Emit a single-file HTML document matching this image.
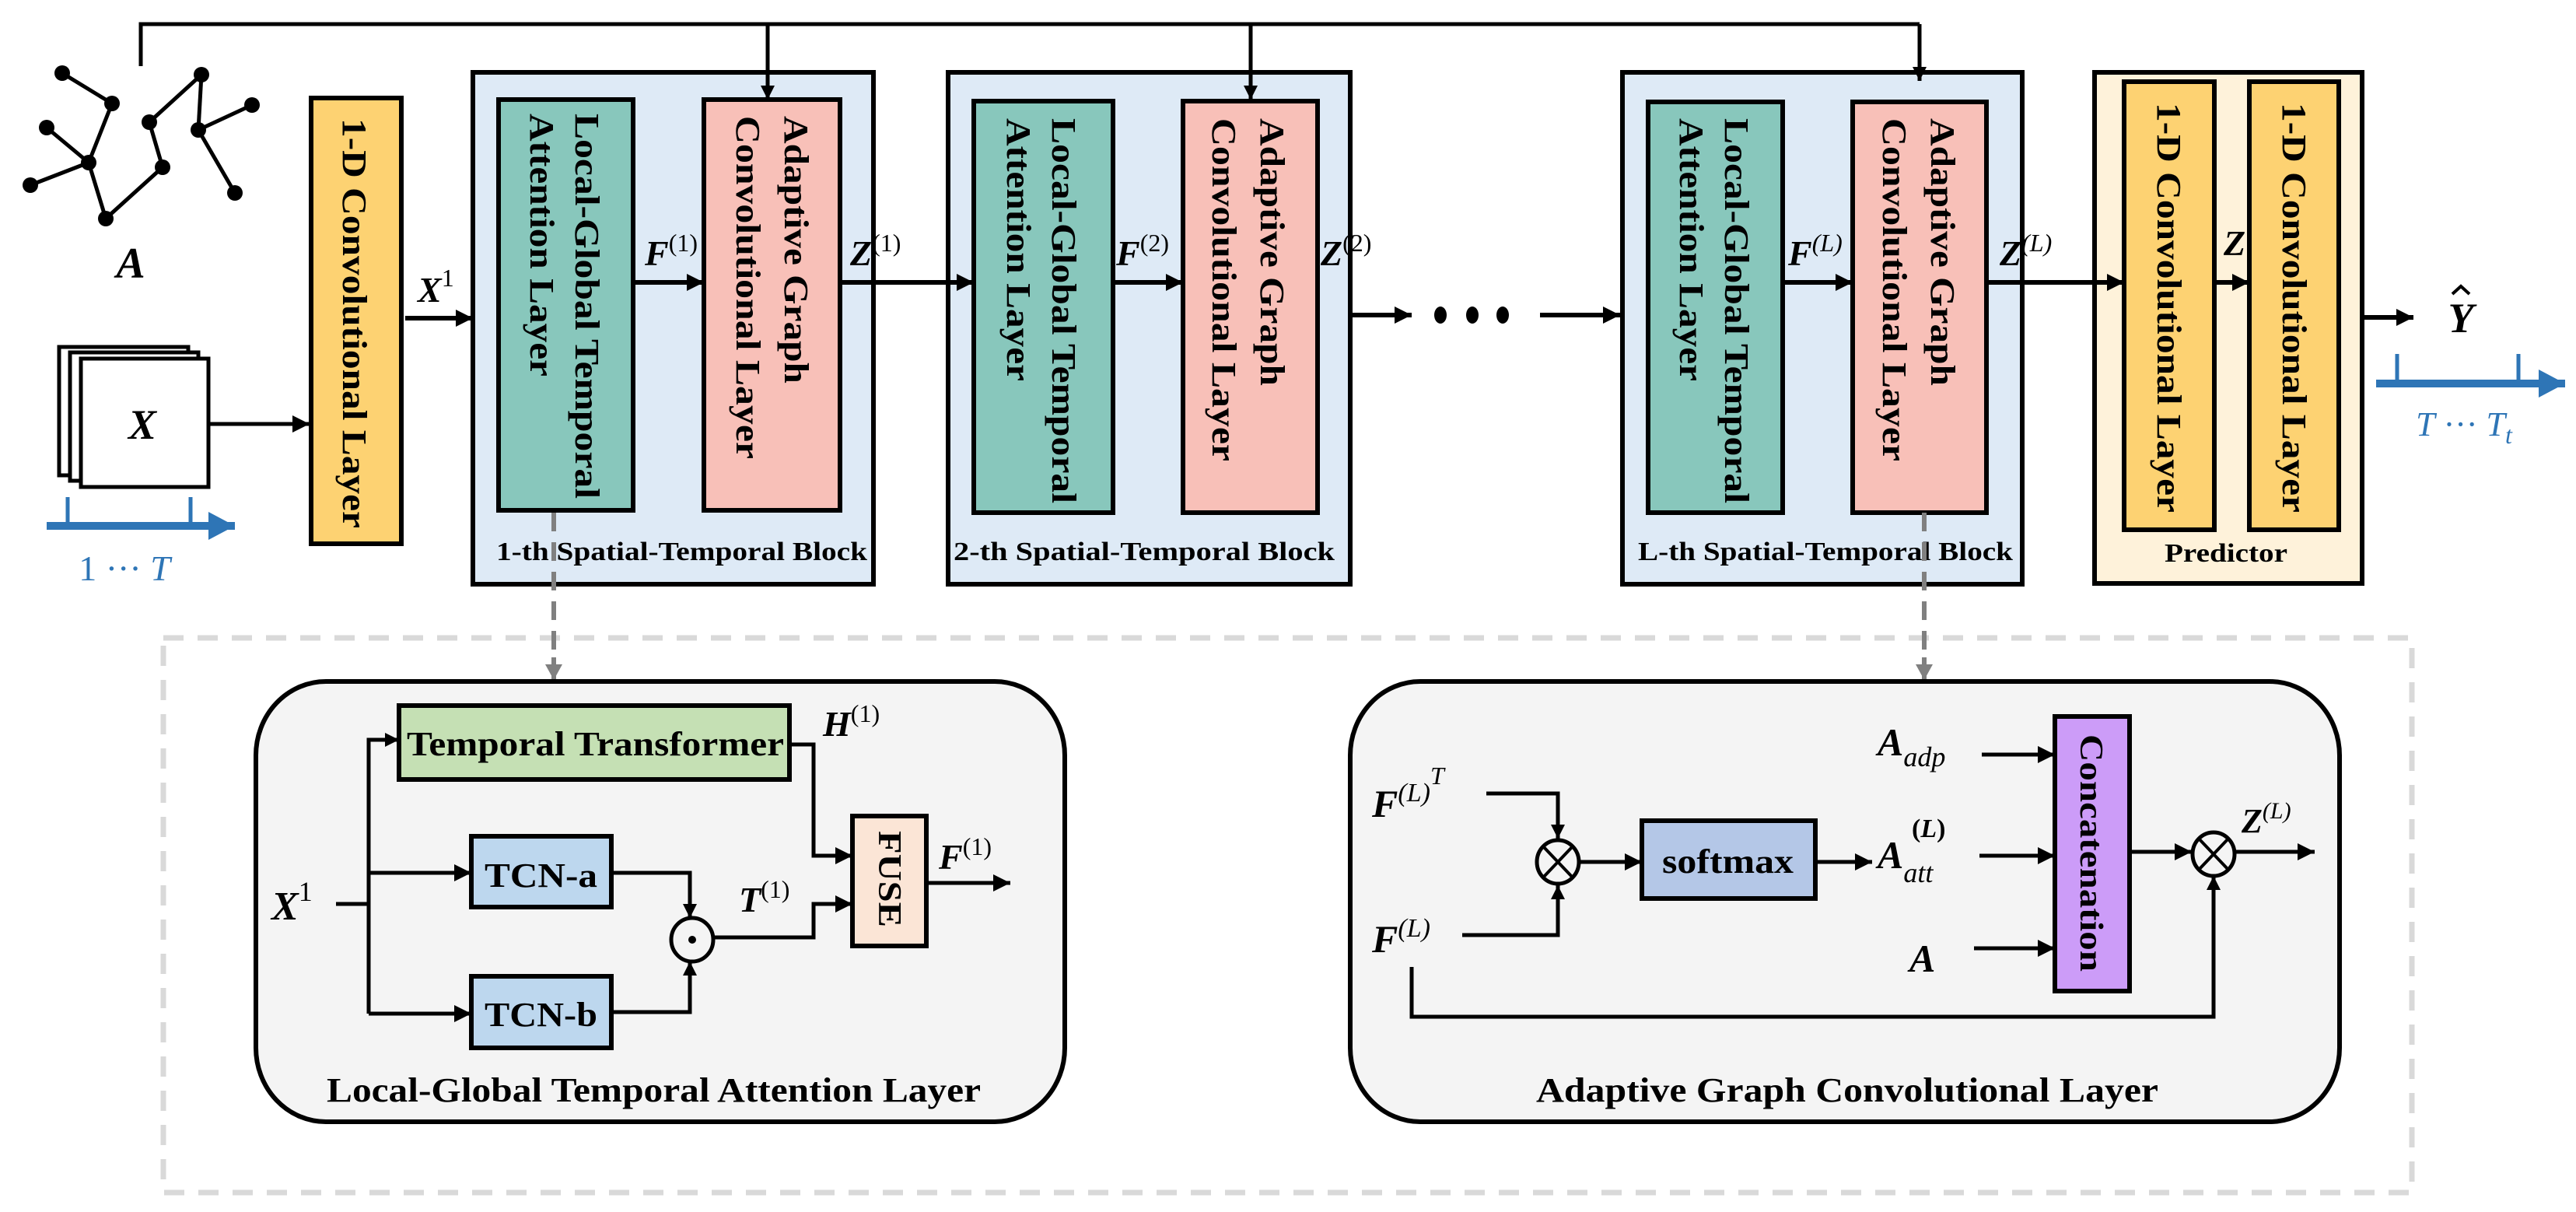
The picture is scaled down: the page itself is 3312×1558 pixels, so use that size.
<!DOCTYPE html>
<html><head><meta charset="utf-8"><style>
html,body{margin:0;padding:0;background:#fff;}
svg{display:block;font-family:"Liberation Serif","Times New Roman",serif;}
svg text{font-family:"Liberation Serif","Times New Roman",serif;font-weight:bold;}
.m{font-style:italic;}
.n{font-style:normal;font-weight:normal;}
</style></head><body>
<svg width="3312" height="1558" viewBox="0 0 3312 1558" xmlns="http://www.w3.org/2000/svg" font-family="Liberation Serif, serif" font-weight="bold">
<defs>
<marker id="ar" markerUnits="userSpaceOnUse" markerWidth="24" markerHeight="22" refX="22" refY="11" orient="auto"><path d="M0,0 L22,11 L0,22 z" fill="#000"/></marker>
<marker id="as" markerUnits="userSpaceOnUse" markerWidth="18" markerHeight="18" refX="18" refY="9" orient="auto"><path d="M0,0 L18,9 L0,18 z" fill="#000"/></marker>
<marker id="ag" markerUnits="userSpaceOnUse" markerWidth="22" markerHeight="22" refX="20" refY="11" orient="auto"><path d="M0,0 L20,11 L0,22 z" fill="#808080"/></marker>
<marker id="ab" markerUnits="userSpaceOnUse" markerWidth="36" markerHeight="36" refX="34" refY="18" orient="auto"><path d="M0,0 L34,18 L0,36 z" fill="#2E75B6"/></marker>
</defs>

<!-- graph A -->
<g stroke="#000" stroke-width="5">
<line x1="80" y1="94" x2="144" y2="133"/><line x1="144" y1="133" x2="114" y2="209"/>
<line x1="60" y1="164" x2="114" y2="209"/><line x1="39" y1="238" x2="114" y2="209"/>
<line x1="114" y1="209" x2="136" y2="281"/><line x1="136" y1="281" x2="209" y2="215"/>
<line x1="209" y1="215" x2="192" y2="157"/><line x1="192" y1="157" x2="259" y2="96"/>
<line x1="259" y1="96" x2="255" y2="167"/><line x1="255" y1="167" x2="324" y2="135"/>
<line x1="255" y1="167" x2="302" y2="248"/>
</g>
<g fill="#000">
<circle cx="80" cy="94" r="10"/><circle cx="144" cy="133" r="10"/><circle cx="60" cy="164" r="10"/>
<circle cx="114" cy="209" r="10"/><circle cx="39" cy="238" r="10"/><circle cx="136" cy="281" r="10"/>
<circle cx="192" cy="157" r="10"/><circle cx="209" cy="215" r="10"/><circle cx="259" cy="96" r="10"/>
<circle cx="255" cy="167" r="10"/><circle cx="324" cy="135" r="10"/><circle cx="302" cy="248" r="10"/>
</g>
<text x="168" y="357" font-size="56" class="m" text-anchor="middle">A</text>

<!-- X stack -->
<g fill="#fff" stroke="#000" stroke-width="5">
<rect x="76" y="446" width="166" height="165"/>
<rect x="90" y="453" width="165" height="165"/>
<rect x="104" y="461" width="164" height="165"/>
</g>
<text x="183" y="564" font-size="54" class="m" text-anchor="middle">X</text>
<line x1="268" y1="545" x2="398" y2="545" stroke="#000" stroke-width="5" marker-end="url(#ar)"/>

<!-- blue axis 1 -->
<g stroke="#2E75B6" stroke-width="10" fill="none">
<line x1="60" y1="676" x2="302" y2="676" marker-end="url(#ab)"/>
<line x1="87" y1="639" x2="87" y2="676" stroke-width="5"/>
<line x1="245" y1="639" x2="245" y2="676" stroke-width="5"/>
</g>
<text x="160" y="746" font-size="46" fill="#2E75B6" class="n" text-anchor="middle">1 ··· <tspan font-style="italic">T</tspan></text>

<!-- 1-D conv -->
<rect x="400" y="126" width="116" height="573" fill="#FDD272" stroke="#000" stroke-width="6"/>
<text transform="translate(441,152) rotate(90)" font-size="44" textLength="527" lengthAdjust="spacingAndGlyphs">1-D Convolutional Layer</text>

<!-- X1 arrow -->
<text x="537" y="388" font-size="46" class="m">X<tspan font-size="32" dy="-20" class="n">1</tspan></text>
<line x1="521" y1="409" x2="608" y2="409" stroke="#000" stroke-width="6" marker-end="url(#ar)"/>

<!-- Blocks -->
<g stroke="#000" stroke-width="6">
<rect x="608" y="93" width="515" height="658" fill="#DEEAF6"/>
<rect x="1219" y="93" width="517" height="658" fill="#DEEAF6"/>
<rect x="2086" y="93" width="514" height="658" fill="#DEEAF6"/>
<rect x="2693" y="93" width="344" height="657" fill="#FEF2DA"/>
<rect x="641" y="128" width="173" height="528" fill="#88C7BC"/>
<rect x="905" y="128" width="175" height="528" fill="#F8C0B8"/>
<rect x="1252" y="130" width="179" height="529" fill="#88C7BC"/>
<rect x="1521" y="130" width="173" height="529" fill="#F8C0B8"/>
<rect x="2119" y="131" width="173" height="528" fill="#88C7BC"/>
<rect x="2382" y="131" width="172" height="528" fill="#F8C0B8"/>
<rect x="2731" y="105" width="116" height="576" fill="#FDD272"/>
<rect x="2892" y="105" width="115" height="576" fill="#FDD272"/>
</g>

<!-- top feedback line (drawn after blocks) -->
<g stroke="#000" stroke-width="5" fill="none">
<polyline points="181,85 181,31 2468,31"/>
<line x1="987" y1="31" x2="987" y2="128" marker-end="url(#as)"/>
<line x1="1608" y1="31" x2="1608" y2="128" marker-end="url(#as)"/>
<line x1="2468" y1="31" x2="2468" y2="104" marker-end="url(#as)"/>
</g>

<!-- vertical texts -->
<g font-size="44">
<text transform="translate(740,146) rotate(90)" textLength="495" lengthAdjust="spacingAndGlyphs">Local-Global Temporal</text>
<text transform="translate(682,146) rotate(90)" textLength="338" lengthAdjust="spacingAndGlyphs">Attention Layer</text>
<text transform="translate(1009,149) rotate(90)" textLength="344" lengthAdjust="spacingAndGlyphs">Adaptive Graph</text>
<text transform="translate(947,149) rotate(90)" textLength="441" lengthAdjust="spacingAndGlyphs">Convolutional Layer</text>

<text transform="translate(1353,152) rotate(90)" textLength="495" lengthAdjust="spacingAndGlyphs">Local-Global Temporal</text>
<text transform="translate(1295,152) rotate(90)" textLength="338" lengthAdjust="spacingAndGlyphs">Attention Layer</text>
<text transform="translate(1621,152) rotate(90)" textLength="344" lengthAdjust="spacingAndGlyphs">Adaptive Graph</text>
<text transform="translate(1559,152) rotate(90)" textLength="441" lengthAdjust="spacingAndGlyphs">Convolutional Layer</text>

<text transform="translate(2218,152) rotate(90)" textLength="495" lengthAdjust="spacingAndGlyphs">Local-Global Temporal</text>
<text transform="translate(2160,152) rotate(90)" textLength="338" lengthAdjust="spacingAndGlyphs">Attention Layer</text>
<text transform="translate(2483,152) rotate(90)" textLength="344" lengthAdjust="spacingAndGlyphs">Adaptive Graph</text>
<text transform="translate(2421,152) rotate(90)" textLength="441" lengthAdjust="spacingAndGlyphs">Convolutional Layer</text>

<text transform="translate(2774,132) rotate(90)" textLength="527" lengthAdjust="spacingAndGlyphs">1-D Convolutional Layer</text>
<text transform="translate(2935,132) rotate(90)" textLength="527" lengthAdjust="spacingAndGlyphs">1-D Convolutional Layer</text>
</g>

<!-- block labels -->
<g font-size="34" class="n" text-anchor="start">
<text x="638" y="720" textLength="477" lengthAdjust="spacingAndGlyphs">1-th Spatial-Temporal Block</text>
<text x="1226" y="720" textLength="490" lengthAdjust="spacingAndGlyphs">2-th Spatial-Temporal Block</text>
<text x="2106" y="720" textLength="482" lengthAdjust="spacingAndGlyphs">L-th Spatial-Temporal Block</text>
<text x="2783" y="722" textLength="158" lengthAdjust="spacingAndGlyphs">Predictor</text>
</g>

<!-- horizontal arrows top -->
<g stroke="#000" stroke-width="6" fill="none">
<line x1="814" y1="363" x2="905" y2="363" marker-end="url(#ar)"/>
<line x1="1080" y1="363" x2="1252" y2="363" marker-end="url(#ar)"/>
<line x1="1431" y1="363" x2="1521" y2="363" marker-end="url(#ar)"/>
<line x1="1736" y1="405" x2="1815" y2="405" marker-end="url(#ar)"/>
<line x1="1980" y1="405" x2="2083" y2="405" marker-end="url(#ar)"/>
<line x1="2292" y1="363" x2="2382" y2="363" marker-end="url(#ar)"/>
<line x1="2554" y1="363" x2="2731" y2="363" marker-end="url(#ar)"/>
<line x1="2847" y1="363" x2="2892" y2="363" marker-end="url(#ar)"/>
<line x1="3037" y1="408" x2="3103" y2="408" marker-end="url(#ar)"/>
</g>
<g fill="#000"><ellipse cx="1852" cy="405" rx="8" ry="11"/><ellipse cx="1893" cy="405" rx="8" ry="11"/><ellipse cx="1932" cy="405" rx="8" ry="11"/></g>

<!-- top math labels -->
<g font-size="46" class="m">
<text x="829" y="341">F<tspan class="n" font-size="32" dy="-18">(1)</tspan></text>
<text x="1093" y="341">Z<tspan class="n" font-size="32" dy="-18">(1)</tspan></text>
<text x="1435" y="341">F<tspan class="n" font-size="32" dy="-18">(2)</tspan></text>
<text x="1698" y="341">Z<tspan class="n" font-size="32" dy="-18">(2)</tspan></text>
<text x="2299" y="341">F<tspan font-size="32" dy="-18" font-weight="normal">(<tspan font-style="italic">L</tspan>)</tspan></text>
<text x="2571" y="341">Z<tspan font-size="32" dy="-18" font-weight="normal">(<tspan font-style="italic">L</tspan>)</tspan></text>
<text x="2859" y="328">Z</text>
<text x="3164" y="427" font-size="54" text-anchor="middle">Y</text>
</g>
<path d="M3153,378 L3164,368 L3175,378" stroke="#000" stroke-width="4" fill="none"/>

<!-- blue axis 2 -->
<g stroke="#2E75B6" stroke-width="10" fill="none">
<line x1="3055" y1="493" x2="3298" y2="493" marker-end="url(#ab)"/>
<line x1="3082" y1="455" x2="3082" y2="493" stroke-width="5"/>
<line x1="3238" y1="455" x2="3238" y2="493" stroke-width="5"/>
</g>
<text x="3168" y="560" font-size="44" fill="#2E75B6" class="n" text-anchor="middle"><tspan font-style="italic">T</tspan> ··· <tspan font-style="italic">T</tspan><tspan font-style="italic" font-size="32" dy="10">t</tspan></text>

<!-- dashed container -->
<rect x="210" y="820" width="2891" height="713" fill="none" stroke="#D9D9D9" stroke-width="7" stroke-dasharray="26,18"/>
<g stroke="#808080" stroke-width="6" stroke-dasharray="24,14">
<line x1="712" y1="659" x2="712" y2="850"/>
<line x1="2474" y1="659" x2="2474" y2="850"/>
</g>
<line x1="712" y1="845" x2="712" y2="874" stroke="#808080" stroke-width="6" marker-end="url(#ag)"/>
<line x1="2474" y1="845" x2="2474" y2="874" stroke="#808080" stroke-width="6" marker-end="url(#ag)"/>

<!-- panels -->
<rect x="329" y="876" width="1040" height="566" rx="90" ry="95" fill="#F4F4F4" stroke="#000" stroke-width="6"/>
<rect x="1736" y="876" width="1272" height="566" rx="90" ry="95" fill="#F4F4F4" stroke="#000" stroke-width="6"/>

<!-- LGTAL internals -->
<g stroke="#000" stroke-width="6">
<rect x="513" y="907" width="502" height="95" fill="#C5E0B4"/>
<rect x="606" y="1075" width="180" height="91" fill="#BDD7EE"/>
<rect x="606" y="1255" width="180" height="92" fill="#BDD7EE"/>
<rect x="1096" y="1049" width="95" height="167" fill="#FBE5D6"/>
</g>
<g font-size="44">
<text x="523" y="971" textLength="485" lengthAdjust="spacingAndGlyphs">Temporal Transformer</text>
<text x="623" y="1140" textLength="145" lengthAdjust="spacingAndGlyphs">TCN-a</text>
<text x="623" y="1319" textLength="145" lengthAdjust="spacingAndGlyphs">TCN-b</text>
<text transform="translate(1130,1068) rotate(90)" font-size="42" textLength="124" lengthAdjust="spacingAndGlyphs">FUSE</text>
</g>
<g stroke="#000" stroke-width="5" fill="none">
<polyline points="432,1162 474,1162"/>
<polyline points="474,1303 474,951 513,951" marker-end="url(#as)"/>
<line x1="474" y1="1122" x2="606" y2="1122" marker-end="url(#ar)"/>
<line x1="474" y1="1303" x2="606" y2="1303" marker-end="url(#ar)"/>
<polyline points="786,1122 887,1122 887,1180" marker-end="url(#as)"/>
<polyline points="786,1301 887,1301 887,1236" marker-end="url(#as)"/>
<polyline points="918,1205 1046,1205 1046,1162 1096,1162" marker-end="url(#ar)"/>
<polyline points="1015,957 1046,957 1046,1100 1096,1100" marker-end="url(#ar)"/>
<line x1="1191" y1="1135" x2="1299" y2="1135" marker-end="url(#ar)"/>
<ellipse cx="890" cy="1208" rx="27" ry="28"/>
</g>
<circle cx="890" cy="1208" r="5" fill="#000"/>
<g font-size="46" class="m">
<text x="349" y="1182" font-size="52">X<tspan class="n" font-size="36" dy="-24">1</tspan></text>
<text x="1058" y="946">H<tspan class="n" font-size="32" dy="-18">(1)</tspan></text>
<text x="950" y="1172">T<tspan class="n" font-size="32" dy="-18">(1)</tspan></text>
<text x="1207" y="1117">F<tspan class="n" font-size="32" dy="-18">(1)</tspan></text>
</g>
<text x="420" y="1416" font-size="44" textLength="841" lengthAdjust="spacingAndGlyphs">Local-Global Temporal Attention Layer</text>

<!-- AGCL internals -->
<g stroke="#000" stroke-width="6">
<rect x="2111" y="1055" width="223" height="100" fill="#B4C7E7"/>
<rect x="2642" y="921" width="96" height="353" fill="#CC9CF8"/>
</g>
<text x="2137" y="1122" font-size="44" textLength="169" lengthAdjust="spacingAndGlyphs">softmax</text>
<text transform="translate(2675,944) rotate(90)" font-size="42" textLength="305" lengthAdjust="spacingAndGlyphs">Concatenation</text>
<g stroke="#000" stroke-width="5" fill="none">
<polyline points="1911,1020 2003,1020 2003,1078" marker-end="url(#as)"/>
<polyline points="1880,1202 2003,1202 2003,1138" marker-end="url(#as)"/>
<line x1="2031" y1="1108" x2="2111" y2="1108" marker-end="url(#ar)"/>
<line x1="2334" y1="1108" x2="2407" y2="1108" marker-end="url(#ar)"/>
<line x1="2548" y1="970" x2="2642" y2="970" marker-end="url(#ar)"/>
<line x1="2545" y1="1100" x2="2642" y2="1100" marker-end="url(#ar)"/>
<line x1="2538" y1="1219" x2="2642" y2="1219" marker-end="url(#ar)"/>
<line x1="2738" y1="1095" x2="2818" y2="1095" marker-end="url(#ar)"/>
<line x1="2874" y1="1095" x2="2976" y2="1095" marker-end="url(#ar)"/>
<polyline points="1815,1243 1815,1307 2846,1307 2846,1126" marker-end="url(#as)"/>
<ellipse cx="2003" cy="1108" rx="27" ry="28"/>
<ellipse cx="2846" cy="1098" rx="27" ry="28"/>
</g>
<g stroke="#000" stroke-width="4">
<line x1="1984" y1="1088" x2="2022" y2="1128"/><line x1="2022" y1="1088" x2="1984" y2="1128"/>
<line x1="2827" y1="1078" x2="2865" y2="1118"/><line x1="2865" y1="1078" x2="2827" y2="1118"/>
</g>
<g font-size="50" class="m">
<text x="1764" y="1050">F<tspan font-size="34" dy="-20" font-weight="normal">(<tspan font-style="italic">L</tspan>)</tspan><tspan font-size="32" dy="-22" font-style="italic" font-weight="normal">T</tspan></text>
<text x="1764" y="1224">F<tspan font-size="34" dy="-20" font-weight="normal">(<tspan font-style="italic">L</tspan>)</tspan></text>
<text x="2414" y="971">A<tspan font-size="36" dy="14" font-weight="normal">adp</tspan></text>
<text x="2414" y="1116">A<tspan font-size="36" dy="18" font-weight="normal">att</tspan></text>
<text x="2458" y="1076" font-size="34" font-weight="normal" font-style="normal">(<tspan font-style="italic">L</tspan>)</text>
<text x="2455" y="1249">A</text>
<text x="2882" y="1070" font-size="44">Z<tspan font-size="30" dy="-18" font-weight="normal">(<tspan font-style="italic">L</tspan>)</tspan></text>
</g>
<text x="1975" y="1416" font-size="44" textLength="800" lengthAdjust="spacingAndGlyphs">Adaptive Graph Convolutional Layer</text>
</svg>
</body></html>
